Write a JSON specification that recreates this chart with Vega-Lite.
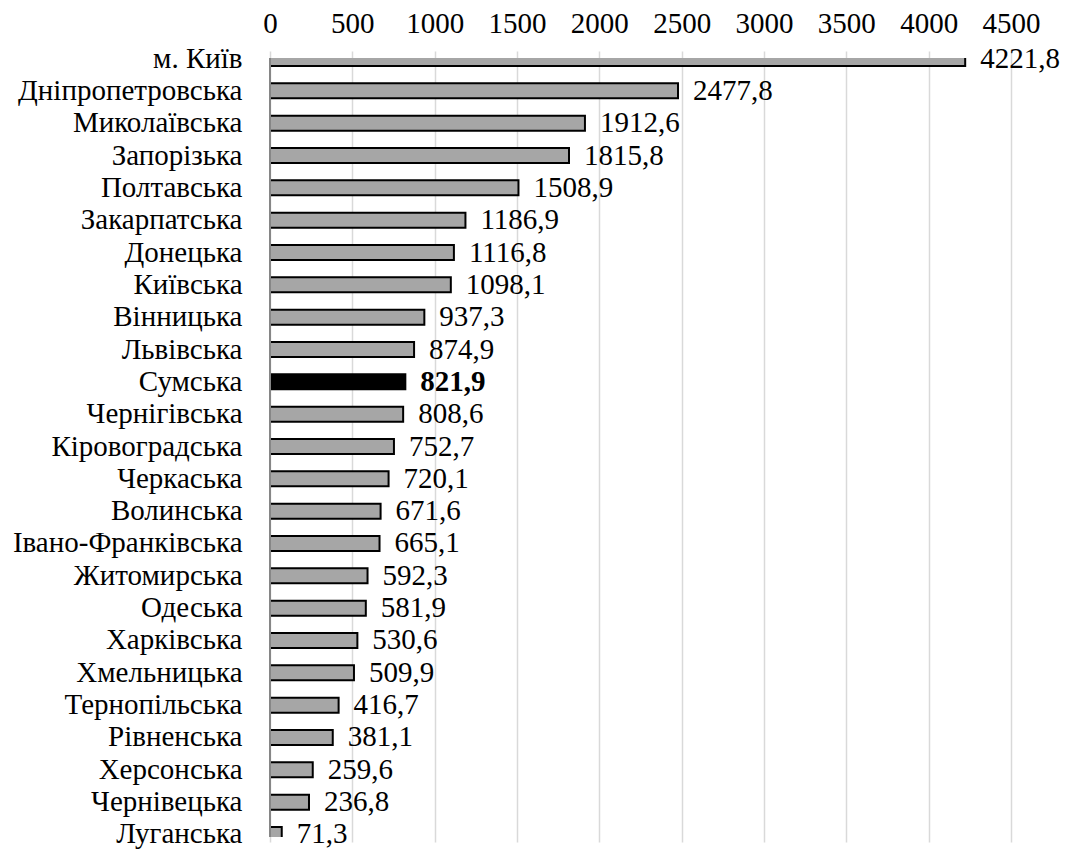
{
  "$schema": "https://vega.github.io/schema/vega-lite/v6.json",
  "autosize": {"type": "none"},
  "width": 741,
  "height": 779,
  "padding": {"left": 270, "top": 58, "right": 60, "bottom": 13},
  "background": "white",
  "config": {
    "view": {"stroke": null},
    "font": "Liberation Serif",
    "locale": {"number": {"decimal": ",", "thousands": "", "grouping": [3], "currency": ["", ""]}}
  },
  "data": {"values": [
    {"region": "м. Київ", "value": 4221.8},
    {"region": "Дніпропетровська", "value": 2477.8},
    {"region": "Миколаївська", "value": 1912.6},
    {"region": "Запорізька", "value": 1815.8},
    {"region": "Полтавська", "value": 1508.9},
    {"region": "Закарпатська", "value": 1186.9},
    {"region": "Донецька", "value": 1116.8},
    {"region": "Київська", "value": 1098.1},
    {"region": "Вінницька", "value": 937.3},
    {"region": "Львівська", "value": 874.9},
    {"region": "Сумська", "value": 821.9},
    {"region": "Чернігівська", "value": 808.6},
    {"region": "Кіровоградська", "value": 752.7},
    {"region": "Черкаська", "value": 720.1},
    {"region": "Волинська", "value": 671.6},
    {"region": "Івано-Франківська", "value": 665.1},
    {"region": "Житомирська", "value": 592.3},
    {"region": "Одеська", "value": 581.9},
    {"region": "Харківська", "value": 530.6},
    {"region": "Хмельницька", "value": 509.9},
    {"region": "Тернопільська", "value": 416.7},
    {"region": "Рівненська", "value": 381.1},
    {"region": "Херсонська", "value": 259.6},
    {"region": "Чернівецька", "value": 236.8},
    {"region": "Луганська", "value": 71.3}
  ]},
  "encoding": {
    "y": {
      "field": "region", "type": "nominal", "sort": null,
      "scale": {"range": [-7, 784], "paddingInner": 0.536, "paddingOuter": 0},
      "axis": {"title": null, "domain": false, "ticks": false, "labelFontSize": 29, "labelColor": "black", "labelPadding": 28, "labelLimit": 0, "labelOverlap": false, "labelFont": "Liberation Serif"}
    },
    "x": {
      "field": "value", "type": "quantitative",
      "scale": {"domain": [0, 4500], "nice": false},
      "axis": {"orient": "top", "title": null, "values": [0, 500, 1000, 1500, 2000, 2500, 3000, 3500, 4000, 4500], "format": "d", "domain": false, "ticks": false, "grid": true, "gridColor": "#d9d9d9", "gridWidth": 1.5, "labelFontSize": 29, "labelColor": "black", "labelPadding": 20, "labelOverlap": false, "labelBound": false, "labelFlush": false, "labelFont": "Liberation Serif"}
    }
  },
  "layer": [
    {
      "mark": {"type": "bar", "clip": true, "stroke": "black", "strokeWidth": 2},
      "encoding": {
        "color": {"condition": {"test": "datum.region === 'Сумська'", "value": "black"}, "value": "#a6a6a6"}
      }
    },
    {
      "mark": {"type": "rule", "color": "#868686", "strokeWidth": 2},
      "encoding": {"x": {"datum": 0}, "y": null}
    },
    {
      "transform": [{"filter": "datum.region !== 'Сумська'"}],
      "mark": {"type": "text", "align": "left", "baseline": "middle", "dx": 15, "fontSize": 29, "font": "Liberation Serif", "color": "black"},
      "encoding": {
        "text": {"field": "value", "type": "quantitative", "format": ".1f"}
      }
    },
    {
      "transform": [{"filter": "datum.region === 'Сумська'"}],
      "mark": {"type": "text", "align": "left", "baseline": "middle", "dx": 15, "fontSize": 29, "fontWeight": "bold", "font": "Liberation Serif", "color": "black"},
      "encoding": {
        "text": {"field": "value", "type": "quantitative", "format": ".1f"}
      }
    }
  ]
}
